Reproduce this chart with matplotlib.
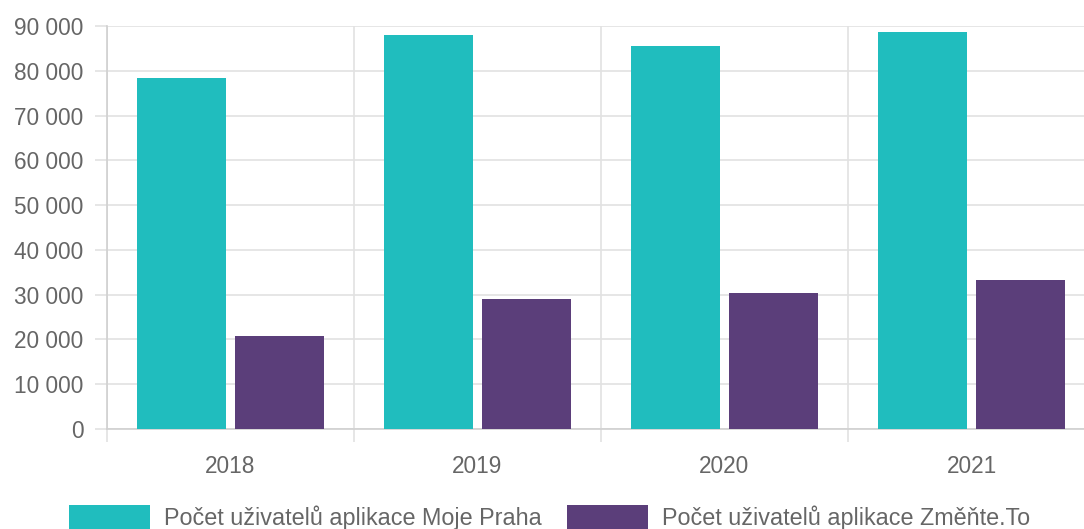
import numpy as np
import matplotlib.pyplot as plt
from matplotlib.ticker import FuncFormatter, FixedLocator

# data
years = ["2018", "2019", "2020", "2021"]
moje_praha = [78300, 88000, 85500, 88600]
zmente_to = [20800, 29000, 30400, 33300]
labels = ["Počet uživatelů aplikace Moje Praha", "Počet uživatelů aplikace Změňte.To"]

teal = "#20bdbe"
purple = "#5b3e7a"
grid_c = "#e2e2e2"
text_c = "#666666"

plt.rcParams['font.family'] = ['Liberation Sans', 'DejaVu Sans']

fig = plt.figure(figsize=(10.84, 5.29), dpi=100)
# plot area runs past the right edge in the original screenshot
ax = fig.add_axes([107 / 1084, 1 - 429 / 529, 988 / 1084, 403 / 529])

x = np.arange(len(years))
w = 0.36
b1 = ax.bar(x - 0.2, moje_praha, w, color=teal, label=labels[0], zorder=3)
b2 = ax.bar(x + 0.2, zmente_to, w, color=purple, label=labels[1], zorder=3)

ax.set_xlim(-0.5, len(years) - 0.5)
ax.set_ylim(0, 90000)
ax.set_yticks(np.arange(0, 90001, 10000))
ax.yaxis.set_major_formatter(FuncFormatter(lambda v, p: f"{int(v):,}".replace(",", " ")))
ax.set_xticks(x)
ax.set_xticklabels(years)
ax.xaxis.set_minor_locator(FixedLocator(np.arange(-0.5, len(years), 1.0)))

ax.grid(axis='y', color=grid_c, linewidth=1.2, zorder=0)
ax.grid(axis='x', which='minor', color=grid_c, linewidth=1.2, zorder=0)
ax.tick_params(axis='y', length=9, color=grid_c, width=1.2, labelsize=16.3, labelcolor=text_c, pad=8)
ax.tick_params(axis='x', which='major', length=0, labelsize=16.3, labelcolor=text_c, pad=19)
ax.tick_params(axis='x', which='minor', length=9, color=grid_c, width=1.2)

for s in ['top', 'right']:
    ax.spines[s].set_visible(False)
for s in ['left', 'bottom']:
    ax.spines[s].set_color("#d0d0d0")
    ax.spines[s].set_linewidth(1.2)

leg = fig.legend(handles=[b1, b2], loc='upper left', bbox_to_anchor=(60 / 1084, 1 - 496 / 529),
                 ncol=2, frameon=False, fontsize=16.8, handlelength=3.45, handleheight=1.2,
                 handletextpad=0.6, columnspacing=1.1, borderaxespad=0)
for t in leg.get_texts():
    t.set_color(text_c)

fig.savefig("out.png", dpi=100)
